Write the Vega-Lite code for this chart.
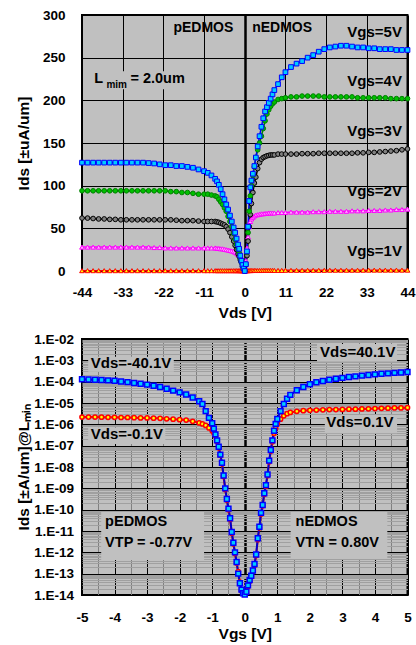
{
  "$schema": "https://vega.github.io/schema/vega-lite/v6.json",
  "background": "white",
  "padding": {"left": 15, "top": 7, "right": 0, "bottom": 0},
  "columns": 1,
  "align": "none",
  "spacing": 9,
  "resolve": {"scale": {"color": "independent", "fill": "independent", "stroke": "independent", "shape": "independent", "size": "independent"}},
  "config": {
    "font": "Liberation Sans",
    "view": {"fill": "#c0c0c0", "stroke": "#000000", "strokeWidth": 2},
    "axis": {
      "labelFont": "Liberation Sans", "labelFontWeight": "bold", "labelFontSize": 13.5, "labelColor": "#000000",
      "titleFont": "Liberation Sans", "titleFontWeight": "bold", "titleFontSize": 15.5, "titleColor": "#000000",
      "ticks": false, "domain": false, "grid": true, "gridOpacity": 1,
      "labelOverlap": false, "labelBound": false, "labelFlush": false
    },
    "text": {"font": "Liberation Sans", "fontWeight": "bold", "color": "#000000"}
  },
  "datasets": {
    "top": [
      {"v": -44, "g1": 0.4, "g2": 28, "g3": 62, "g4": 94, "g5": 127},
      {"v": -42.5, "g1": 0.4, "g2": 28, "g3": 62, "g4": 94, "g5": 127},
      {"v": -41, "g1": 0.4, "g2": 28, "g3": 61.5, "g4": 94, "g5": 127},
      {"v": -39.5, "g1": 0.4, "g2": 28, "g3": 61, "g4": 94, "g5": 127},
      {"v": -38, "g1": 0.4, "g2": 28, "g3": 61, "g4": 94, "g5": 127},
      {"v": -36.5, "g1": 0.4, "g2": 28, "g3": 60.5, "g4": 94, "g5": 127},
      {"v": -35, "g1": 0.4, "g2": 28, "g3": 60.5, "g4": 94, "g5": 127},
      {"v": -33.5, "g1": 0.4, "g2": 28, "g3": 60, "g4": 94, "g5": 127},
      {"v": -32, "g1": 0.4, "g2": 28, "g3": 60, "g4": 94, "g5": 127},
      {"v": -30.5, "g1": 0.4, "g2": 28, "g3": 60, "g4": 94, "g5": 127},
      {"v": -29, "g1": 0.4, "g2": 28, "g3": 60, "g4": 94, "g5": 127},
      {"v": -27.5, "g1": 0.4, "g2": 28, "g3": 60, "g4": 94, "g5": 127},
      {"v": -26, "g1": 0.4, "g2": 28, "g3": 60, "g4": 94, "g5": 126.5},
      {"v": -24.5, "g1": 0.4, "g2": 27.5, "g3": 60, "g4": 94, "g5": 126},
      {"v": -23, "g1": 0.4, "g2": 27.5, "g3": 60, "g4": 94, "g5": 125},
      {"v": -21.5, "g1": 0.4, "g2": 27, "g3": 60, "g4": 94, "g5": 124},
      {"v": -20, "g1": 0.4, "g2": 27, "g3": 60, "g4": 93, "g5": 124},
      {"v": -18.5, "g1": 0.4, "g2": 27, "g3": 59.5, "g4": 93, "g5": 123},
      {"v": -17, "g1": 0.4, "g2": 27, "g3": 59, "g4": 92, "g5": 123},
      {"v": -15.5, "g1": 0.4, "g2": 27, "g3": 59, "g4": 92, "g5": 122},
      {"v": -14, "g1": 0.4, "g2": 27, "g3": 59, "g4": 91, "g5": 121},
      {"v": -12.5, "g1": 0.4, "g2": 27, "g3": 58.5, "g4": 90, "g5": 119},
      {"v": -11, "g1": 0.4, "g2": 27, "g3": 58, "g4": 90, "g5": 117},
      {"v": -10, "g1": 0.4, "g2": 27, "g3": 58, "g4": 90, "g5": 115},
      {"v": -9, "g1": 0.4, "g2": 27, "g3": 58, "g4": 89, "g5": 112},
      {"v": -8, "g1": 0.4, "g2": 27, "g3": 58, "g4": 88, "g5": 108},
      {"v": -7.5, "g1": 0.4, "g2": 26.5, "g3": 57.5, "g4": 87, "g5": 105},
      {"v": -7, "g1": 0.4, "g2": 26.5, "g3": 57, "g4": 84, "g5": 101},
      {"v": -6.5, "g1": 0.4, "g2": 26, "g3": 56, "g4": 81, "g5": 96},
      {"v": -6, "g1": 0.4, "g2": 26, "g3": 55, "g4": 78, "g5": 90},
      {"v": -5.5, "g1": 0.4, "g2": 25.5, "g3": 54, "g4": 74, "g5": 84},
      {"v": -5, "g1": 0.4, "g2": 25, "g3": 52, "g4": 70, "g5": 78},
      {"v": -4.5, "g1": 0.4, "g2": 24.5, "g3": 49, "g4": 64, "g5": 72},
      {"v": -4, "g1": 0.4, "g2": 24, "g3": 45, "g4": 58, "g5": 65},
      {"v": -3.5, "g1": 0.4, "g2": 23.5, "g3": 40, "g4": 52, "g5": 58},
      {"v": -3, "g1": 0.4, "g2": 23, "g3": 35, "g4": 44, "g5": 51},
      {"v": -2.6, "g1": 0.4, "g2": 22, "g3": 30, "g4": 37, "g5": 45},
      {"v": -2.2, "g1": 0.4, "g2": 21, "g3": 25, "g4": 31, "g5": 38},
      {"v": -1.8, "g1": 0.4, "g2": 19.5, "g3": 20, "g4": 25, "g5": 31},
      {"v": -1.5, "g1": 0.4, "g2": 18.5, "g3": 17, "g4": 21, "g5": 26},
      {"v": -1.2, "g1": 0.4, "g2": 17, "g3": 13, "g4": 15, "g5": 18},
      {"v": -0.9, "g1": 0.3, "g2": 14, "g3": 10, "g4": 10, "g5": 12},
      {"v": -0.6, "g1": 0.3, "g2": 11, "g3": 6, "g4": 5, "g5": 7},
      {"v": -0.3, "g1": 0.2, "g2": 6, "g3": 2, "g4": 2, "g5": 3},
      {"v": 0, "g1": 0, "g2": 0, "g3": 0, "g4": 0, "g5": 0},
      {"v": 0.3, "g1": 0.2, "g2": 12, "g3": 7, "g4": 8, "g5": 8},
      {"v": 0.6, "g1": 0.3, "g2": 27, "g3": 18, "g4": 22, "g5": 23},
      {"v": 0.9, "g1": 0.4, "g2": 40, "g3": 35, "g4": 45, "g5": 52},
      {"v": 1.2, "g1": 0.5, "g2": 52, "g3": 52, "g4": 70, "g5": 82},
      {"v": 1.5, "g1": 0.5, "g2": 58, "g3": 66, "g4": 88, "g5": 98},
      {"v": 1.8, "g1": 0.5, "g2": 61, "g3": 79, "g4": 100, "g5": 106},
      {"v": 2.2, "g1": 0.6, "g2": 63, "g3": 92, "g4": 112, "g5": 114},
      {"v": 2.6, "g1": 0.6, "g2": 64.5, "g3": 103, "g4": 122, "g5": 123},
      {"v": 3, "g1": 0.6, "g2": 65.5, "g3": 110, "g4": 133, "g5": 133},
      {"v": 3.5, "g1": 0.6, "g2": 66, "g3": 120, "g4": 142, "g5": 146},
      {"v": 4, "g1": 0.6, "g2": 66.5, "g3": 127, "g4": 150, "g5": 158},
      {"v": 4.5, "g1": 0.6, "g2": 67, "g3": 131, "g4": 158, "g5": 169},
      {"v": 5, "g1": 0.7, "g2": 67, "g3": 133, "g4": 167, "g5": 179},
      {"v": 5.5, "g1": 0.7, "g2": 67.5, "g3": 134, "g4": 176, "g5": 187},
      {"v": 6, "g1": 0.7, "g2": 67.5, "g3": 135, "g4": 184, "g5": 192},
      {"v": 6.5, "g1": 0.7, "g2": 68, "g3": 135.5, "g4": 189, "g5": 197},
      {"v": 7, "g1": 0.7, "g2": 68, "g3": 136, "g4": 193, "g5": 202},
      {"v": 7.5, "g1": 0.7, "g2": 68, "g3": 136, "g4": 196, "g5": 207},
      {"v": 8, "g1": 0.7, "g2": 68, "g3": 136, "g4": 198, "g5": 212},
      {"v": 9, "g1": 0.7, "g2": 68.5, "g3": 137, "g4": 201, "g5": 219},
      {"v": 10, "g1": 0.7, "g2": 68.5, "g3": 137, "g4": 202, "g5": 227},
      {"v": 11, "g1": 0.8, "g2": 68.5, "g3": 137, "g4": 203, "g5": 233},
      {"v": 12.5, "g1": 0.8, "g2": 69, "g3": 137, "g4": 204, "g5": 239},
      {"v": 14, "g1": 0.8, "g2": 69, "g3": 137, "g4": 204, "g5": 243},
      {"v": 15.5, "g1": 0.8, "g2": 69, "g3": 137.5, "g4": 205, "g5": 246},
      {"v": 17, "g1": 0.8, "g2": 69, "g3": 137.5, "g4": 205, "g5": 250},
      {"v": 18.5, "g1": 0.8, "g2": 69.5, "g3": 137.5, "g4": 205, "g5": 253},
      {"v": 20, "g1": 0.8, "g2": 69.5, "g3": 138, "g4": 205, "g5": 257},
      {"v": 21.5, "g1": 0.8, "g2": 69.5, "g3": 138, "g4": 204, "g5": 260},
      {"v": 23, "g1": 0.9, "g2": 70, "g3": 138, "g4": 204, "g5": 262},
      {"v": 24.5, "g1": 0.9, "g2": 70, "g3": 138, "g4": 204, "g5": 263},
      {"v": 26, "g1": 0.9, "g2": 70, "g3": 138, "g4": 204, "g5": 264},
      {"v": 27.5, "g1": 0.9, "g2": 70, "g3": 138, "g4": 204, "g5": 264},
      {"v": 29, "g1": 0.9, "g2": 70.5, "g3": 138, "g4": 204, "g5": 263},
      {"v": 30.5, "g1": 0.9, "g2": 70.5, "g3": 138.5, "g4": 203, "g5": 262},
      {"v": 32, "g1": 0.9, "g2": 70.5, "g3": 138.5, "g4": 203, "g5": 262},
      {"v": 33.5, "g1": 1, "g2": 71, "g3": 139, "g4": 203, "g5": 261},
      {"v": 35, "g1": 1, "g2": 71, "g3": 139, "g4": 203, "g5": 261},
      {"v": 36.5, "g1": 1, "g2": 71, "g3": 139.5, "g4": 203, "g5": 260},
      {"v": 38, "g1": 1, "g2": 71.5, "g3": 140, "g4": 203, "g5": 260},
      {"v": 39.5, "g1": 1, "g2": 71.5, "g3": 140.5, "g4": 202, "g5": 260},
      {"v": 41, "g1": 1, "g2": 72, "g3": 141, "g4": 202, "g5": 259},
      {"v": 42.5, "g1": 1, "g2": 72, "g3": 142, "g4": 202, "g5": 259},
      {"v": 44, "g1": 1, "g2": 72.5, "g3": 143, "g4": 202, "g5": 259}
    ],
    "bot": [
      {"v": -5, "n01": 2.19e-6, "n40": 1.29e-4},
      {"v": -4.8, "n01": 2.19e-6, "n40": 1.26e-4},
      {"v": -4.6, "n01": 2.19e-6, "n40": 1.23e-4},
      {"v": -4.4, "n01": 2.16e-6, "n40": 1.2e-4},
      {"v": -4.2, "n01": 2.14e-6, "n40": 1.15e-4},
      {"v": -4.0, "n01": 2.14e-6, "n40": 1.1e-4},
      {"v": -3.8, "n01": 2.09e-6, "n40": 1.02e-4},
      {"v": -3.6, "n01": 2.09e-6, "n40": 9.55e-5},
      {"v": -3.4, "n01": 2.04e-6, "n40": 8.71e-5},
      {"v": -3.2, "n01": 2e-6, "n40": 7.94e-5},
      {"v": -3.0, "n01": 2e-6, "n40": 7.24e-5},
      {"v": -2.8, "n01": 1.95e-6, "n40": 6.46e-5},
      {"v": -2.6, "n01": 1.91e-6, "n40": 5.62e-5},
      {"v": -2.4, "n01": 1.82e-6, "n40": 4.68e-5},
      {"v": -2.2, "n01": 1.74e-6, "n40": 3.8e-5},
      {"v": -2.0, "n01": 1.66e-6, "n40": 3.16e-5},
      {"v": -1.8, "n01": 1.58e-6, "n40": 2.51e-5},
      {"v": -1.6, "n01": 1.38e-6, "n40": 1.82e-5},
      {"v": -1.4, "n01": 1.17e-6, "n40": 1.2e-5},
      {"v": -1.3, "n01": 1.05e-6, "n40": 8.91e-6},
      {"v": -1.2, "n01": 8.91e-7, "n40": 4.17e-6},
      {"v": -1.1, "n01": 6.76e-7, "n40": 2e-6},
      {"v": -1.0, "n01": 5.01e-7, "n40": 1.12e-6},
      {"v": -0.95, "n01": 3.98e-7, "n40": 6.31e-7},
      {"v": -0.9, "n01": 2.82e-7, "n40": 3.39e-7},
      {"v": -0.85, "n01": 1.58e-7, "n40": 1.78e-7},
      {"v": -0.8, "n01": 7.94e-8, "n40": 8.91e-8},
      {"v": -0.75, "n01": 3.55e-8, "n40": 3.8e-8},
      {"v": -0.7, "n01": 1.41e-8, "n40": 1.58e-8},
      {"v": -0.65, "n01": 3.55e-9, "n40": 3.98e-9},
      {"v": -0.6, "n01": 8.91e-10, "n40": 1e-9},
      {"v": -0.55, "n01": 2.82e-10, "n40": 3.16e-10},
      {"v": -0.5, "n01": 1e-10, "n40": 1.12e-10},
      {"v": -0.45, "n01": 3.55e-11, "n40": 3.98e-11},
      {"v": -0.4, "n01": 7.94e-12, "n40": 8.91e-12},
      {"v": -0.35, "n01": 2.51e-12, "n40": 2.82e-12},
      {"v": -0.3, "n01": 8.91e-13, "n40": 1e-12},
      {"v": -0.25, "n01": 3.16e-13, "n40": 3.55e-13},
      {"v": -0.2, "n01": 1.26e-13, "n40": 1e-13},
      {"v": -0.15, "n01": 3.98e-14, "n40": 3.55e-14},
      {"v": -0.1, "n01": 1.58e-14, "n40": 1.78e-14},
      {"v": -0.05, "n01": 1.26e-14, "n40": 1.2e-14},
      {"v": 0, "n01": 1.12e-14, "n40": 1.05e-14},
      {"v": 0.05, "n01": 1.26e-14, "n40": 1.41e-14},
      {"v": 0.1, "n01": 2.51e-14, "n40": 2.82e-14},
      {"v": 0.15, "n01": 4.47e-14, "n40": 5.01e-14},
      {"v": 0.2, "n01": 7.08e-14, "n40": 7.94e-14},
      {"v": 0.25, "n01": 1.26e-13, "n40": 1.41e-13},
      {"v": 0.3, "n01": 2.51e-13, "n40": 2.82e-13},
      {"v": 0.35, "n01": 7.08e-13, "n40": 7.94e-13},
      {"v": 0.4, "n01": 3.98e-12, "n40": 4.57e-12},
      {"v": 0.45, "n01": 1.41e-11, "n40": 1.58e-11},
      {"v": 0.5, "n01": 6.31e-11, "n40": 7.08e-11},
      {"v": 0.55, "n01": 1.51e-10, "n40": 1.66e-10},
      {"v": 0.6, "n01": 5.25e-10, "n40": 5.89e-10},
      {"v": 0.65, "n01": 1.26e-9, "n40": 1.41e-9},
      {"v": 0.7, "n01": 3.98e-9, "n40": 4.47e-9},
      {"v": 0.75, "n01": 1.78e-8, "n40": 2e-8},
      {"v": 0.8, "n01": 5.62e-8, "n40": 6.31e-8},
      {"v": 0.85, "n01": 1.51e-7, "n40": 1.78e-7},
      {"v": 0.9, "n01": 3.8e-7, "n40": 5.01e-7},
      {"v": 0.95, "n01": 6.61e-7, "n40": 1.05e-6},
      {"v": 1.0, "n01": 1.05e-6, "n40": 1.78e-6},
      {"v": 1.1, "n01": 1.74e-6, "n40": 4.17e-6},
      {"v": 1.2, "n01": 2.51e-6, "n40": 8.91e-6},
      {"v": 1.3, "n01": 3.16e-6, "n40": 1.58e-5},
      {"v": 1.4, "n01": 3.63e-6, "n40": 2.4e-5},
      {"v": 1.6, "n01": 4.07e-6, "n40": 3.98e-5},
      {"v": 1.8, "n01": 4.37e-6, "n40": 5.62e-5},
      {"v": 2.0, "n01": 4.57e-6, "n40": 7.59e-5},
      {"v": 2.2, "n01": 4.68e-6, "n40": 9.33e-5},
      {"v": 2.4, "n01": 4.79e-6, "n40": 1.07e-4},
      {"v": 2.6, "n01": 4.9e-6, "n40": 1.23e-4},
      {"v": 2.8, "n01": 4.9e-6, "n40": 1.38e-4},
      {"v": 3.0, "n01": 5.01e-6, "n40": 1.51e-4},
      {"v": 3.2, "n01": 5.13e-6, "n40": 1.66e-4},
      {"v": 3.4, "n01": 5.13e-6, "n40": 1.78e-4},
      {"v": 3.6, "n01": 5.25e-6, "n40": 1.91e-4},
      {"v": 3.8, "n01": 5.37e-6, "n40": 2.04e-4},
      {"v": 4.0, "n01": 5.5e-6, "n40": 2.19e-4},
      {"v": 4.2, "n01": 5.62e-6, "n40": 2.34e-4},
      {"v": 4.4, "n01": 5.75e-6, "n40": 2.45e-4},
      {"v": 4.6, "n01": 5.89e-6, "n40": 2.57e-4},
      {"v": 4.8, "n01": 5.89e-6, "n40": 2.69e-4},
      {"v": 5.0, "n01": 6.03e-6, "n40": 2.82e-4}
    ]
  },
  "concat": [
    {
      "width": 325.5,
      "height": 256,
      "layer": [
        {
          "data": {"values": [{"v": -41.7, "v2": -16, "i": 213, "i2": 234}]},
          "mark": {"type": "rect", "fill": "#c0c0c0"},
          "encoding": {
            "x": {"field": "v", "type": "quantitative",
              "scale": {"domain": [-44, 44], "nice": false, "zero": false},
              "title": "Vds  [V]",
              "axis": {
                "values": [-44, -38.5, -33, -27.5, -22, -16.5, -11, -5.5, 0, 5.5, 11, 16.5, 22, 27.5, 33, 38.5, 44],
                "labelExpr": "datum.value % 11 === 0 ? toString(datum.value) : ''",
                "labelOverlap": false,
                "gridColor": {"condition": {"test": "datum.value % 11 === 0", "value": "#000000"}, "value": "#7f7f7f"},
                "gridWidth": {"condition": {"test": "datum.value === 0", "value": 2.5}, "value": 1},
                "labelPadding": 14, "titlePadding": 7
              }
            },
            "x2": {"field": "v2"},
            "y": {"field": "i", "type": "quantitative",
              "scale": {"domain": [0, 300], "nice": false, "zero": false},
              "title": "Ids  [±uA/um]",
              "axis": {
                "values": [0, 25, 50, 75, 100, 125, 150, 175, 200, 225, 250, 275, 300],
                "labelExpr": "datum.value % 50 === 0 ? toString(datum.value) : ''",
                "labelOverlap": false,
                "gridColor": {"condition": {"test": "datum.value % 50 === 0", "value": "#000000"}, "value": "#7f7f7f"},
                "labelPadding": 17, "titlePadding": 10.5
              }
            },
            "y2": {"field": "i2"}
          }
        },
        {
          "data": {"name": "top"},
          "transform": [{"fold": ["g1", "g2", "g3", "g4", "g5"], "as": ["s", "i"]}],
          "mark": {"type": "line", "strokeWidth": 1.5},
          "encoding": {
            "x": {"field": "v", "type": "quantitative"},
            "y": {"field": "i", "type": "quantitative"},
            "color": {"field": "s", "type": "nominal", "legend": null,
              "scale": {"domain": ["g1", "g2", "g3", "g4", "g5"], "range": ["#ff0000", "#ff00ff", "#000000", "#008000", "#0000ff"]}}
          }
        },
        {
          "data": {"name": "top"},
          "transform": [{"fold": ["g1", "g2", "g3", "g4", "g5"], "as": ["s", "i"]}],
          "mark": {"type": "point", "strokeWidth": 1, "opacity": 1},
          "encoding": {
            "x": {"field": "v", "type": "quantitative"},
            "y": {"field": "i", "type": "quantitative"},
            "shape": {"field": "s", "type": "nominal", "legend": null,
              "scale": {"domain": ["g1", "g2", "g3", "g4", "g5"], "range": ["triangle-up", "triangle-up", "circle", "circle", "square"]}},
            "fill": {"field": "s", "type": "nominal", "legend": null,
              "scale": {"domain": ["g1", "g2", "g3", "g4", "g5"], "range": ["#ffff00", "#ffb0ff", "#808080", "#00c000", "#00ccff"]}},
            "stroke": {"field": "s", "type": "nominal", "legend": null,
              "scale": {"domain": ["g1", "g2", "g3", "g4", "g5"], "range": ["#ff0000", "#ff00ff", "#000000", "#008000", "#0000ff"]}},
            "size": {"field": "s", "type": "ordinal", "legend": null,
              "scale": {"domain": ["g1", "g2", "g3", "g4", "g5"], "range": [22, 22, 18, 18, 26]}},
            "order": {"field": "s"}
          }
        },
        {
          "data": {"values": [
            {"v": -3.1, "i": 285, "t": "pEDMOS"}
          ]},
          "mark": {"type": "text", "align": "right", "baseline": "middle", "fontSize": 14},
          "encoding": {"x": {"field": "v", "type": "quantitative"}, "y": {"field": "i", "type": "quantitative"}, "text": {"field": "t"}}
        },
        {
          "data": {"values": [
            {"v": 42.5, "i": 280, "t": "Vgs=5V"},
            {"v": 42.5, "i": 223, "t": "Vgs=4V"},
            {"v": 42.5, "i": 164, "t": "Vgs=3V"},
            {"v": 42.5, "i": 94, "t": "Vgs=2V"},
            {"v": 42.5, "i": 23, "t": "Vgs=1V"}
          ]},
          "mark": {"type": "text", "align": "right", "baseline": "middle", "fontSize": 15},
          "encoding": {"x": {"field": "v", "type": "quantitative"}, "y": {"field": "i", "type": "quantitative"}, "text": {"field": "t"}}
        },
        {
          "data": {"values": [
            {"v": 2.0, "i": 285, "t": "nEDMOS"}
          ]},
          "mark": {"type": "text", "align": "left", "baseline": "middle", "fontSize": 14},
          "encoding": {"x": {"field": "v", "type": "quantitative"}, "y": {"field": "i", "type": "quantitative"}, "text": {"field": "t"}}
        },
        {
          "data": {"values": [
            {"v": -40.7, "i": 225, "t": "L"},
            {"v": -30.9, "i": 225, "t": "= 2.0um"}
          ]},
          "mark": {"type": "text", "align": "left", "baseline": "middle", "fontSize": 14.5},
          "encoding": {"x": {"field": "v", "type": "quantitative"}, "y": {"field": "i", "type": "quantitative"}, "text": {"field": "t"}}
        },
        {
          "data": {"values": [
            {"v": -37.4, "i": 218, "t": "mim"}
          ]},
          "mark": {"type": "text", "align": "left", "baseline": "middle", "fontSize": 10},
          "encoding": {"x": {"field": "v", "type": "quantitative"}, "y": {"field": "i", "type": "quantitative"}, "text": {"field": "t"}}
        }
      ]
    },
    {
      "width": 325.5,
      "height": 256,
      "resolve": {"axis": {"x": "independent"}},
      "layer": [
        {
          "data": {"values": [
            {"v": -4.81, "v2": -2.18, "i": 1.48e-3, "i2": 2.95e-4},
            {"v": -4.81, "v2": -2.44, "i": 7.24e-7, "i2": 1.2e-7},
            {"v": 2.22, "v2": 4.68, "i": 5.89e-3, "i2": 8.7e-4},
            {"v": 2.46, "v2": 4.68, "i": 2.75e-6, "i2": 3.8e-7},
            {"v": -4.41, "v2": -1.25, "i": 7.76e-11, "i2": 4.37e-13},
            {"v": 1.41, "v2": 4.38, "i": 7.76e-11, "i2": 4.9e-13}
          ]},
          "mark": {"type": "rect", "fill": "#c0c0c0"},
          "encoding": {
            "x": {"field": "v", "type": "quantitative",
              "scale": {"domain": [-5, 5], "nice": false, "zero": false},
              "title": "Vgs  [V]",
              "axis": {
                "values": [-5, -4, -3, -2, -1, 0, 1, 2, 3, 4, 5],
                "labelExpr": "toString(datum.value)",
                "labelOverlap": false,
                "gridColor": "#000000",
                "gridWidth": {"condition": {"test": "datum.value === 0", "value": 2.5}, "value": 1},
                "labelPadding": 15, "titlePadding": 3
              }
            },
            "x2": {"field": "v2"},
            "y": {"field": "i", "type": "quantitative",
              "scale": {"type": "log", "domain": [1e-14, 1e-2], "nice": false, "zero": false},
              "title": "Ids  [±A/um]@Lₘᵢₙ",
              "axis": {
                "values": [1e-14, 2e-14, 3e-14, 4e-14, 5e-14, 6e-14, 7e-14, 8e-14, 9e-14,
                  1e-13, 2e-13, 3e-13, 4e-13, 5e-13, 6e-13, 7e-13, 8e-13, 9e-13,
                  1e-12, 2e-12, 3e-12, 4e-12, 5e-12, 6e-12, 7e-12, 8e-12, 9e-12,
                  1e-11, 2e-11, 3e-11, 4e-11, 5e-11, 6e-11, 7e-11, 8e-11, 9e-11,
                  1e-10, 2e-10, 3e-10, 4e-10, 5e-10, 6e-10, 7e-10, 8e-10, 9e-10,
                  1e-9, 2e-9, 3e-9, 4e-9, 5e-9, 6e-9, 7e-9, 8e-9, 9e-9,
                  1e-8, 2e-8, 3e-8, 4e-8, 5e-8, 6e-8, 7e-8, 8e-8, 9e-8,
                  1e-7, 2e-7, 3e-7, 4e-7, 5e-7, 6e-7, 7e-7, 8e-7, 9e-7,
                  1e-6, 2e-6, 3e-6, 4e-6, 5e-6, 6e-6, 7e-6, 8e-6, 9e-6,
                  1e-5, 2e-5, 3e-5, 4e-5, 5e-5, 6e-5, 7e-5, 8e-5, 9e-5,
                  1e-4, 2e-4, 3e-4, 4e-4, 5e-4, 6e-4, 7e-4, 8e-4, 9e-4,
                  1e-3, 2e-3, 3e-3, 4e-3, 5e-3, 6e-3, 7e-3, 8e-3, 9e-3, 1e-2],
                "labelExpr": "abs(log(datum.value)/LN10 - round(log(datum.value)/LN10)) < 0.001 ? (round(-log(datum.value)/LN10) < 10 ? '1.E-0' : '1.E-') + round(-log(datum.value)/LN10) : ''",
                "labelOverlap": false,
                "gridColor": {"condition": {"test": "abs(log(datum.value)/LN10 - round(log(datum.value)/LN10)) < 0.001", "value": "#000000"}, "value": "#a0a0a0"},
                "labelPadding": 8.5, "titlePadding": 2.7
              }
            },
            "y2": {"field": "i2"}
          }
        },
        {
          "data": {"name": "bot"},
          "transform": [{"fold": ["n01", "n40"], "as": ["s", "i"]}],
          "mark": {"type": "line", "strokeWidth": 2},
          "encoding": {
            "x": {"field": "v", "type": "quantitative",
              "axis": {
                "orient": "top",
                "values": [-4.5, -3.5, -2.5, -1.5, -0.5, 0.5, 1.5, 2.5, 3.5, 4.5],
                "labels": false, "title": null, "ticks": false, "domain": false,
                "grid": true, "gridColor": "#808080"
              }
            },
            "y": {"field": "i", "type": "quantitative"},
            "color": {"field": "s", "type": "nominal", "legend": null,
              "scale": {"domain": ["n01", "n40"], "range": ["#ff0000", "#0000cc"]}}
          }
        },
        {
          "data": {"name": "bot"},
          "transform": [{"fold": ["n01", "n40"], "as": ["s", "i"]}],
          "mark": {"type": "point", "strokeWidth": 1.5, "opacity": 1},
          "encoding": {
            "x": {"field": "v", "type": "quantitative", "axis": null},
            "y": {"field": "i", "type": "quantitative"},
            "shape": {"field": "s", "type": "nominal", "legend": null,
              "scale": {"domain": ["n01", "n40"], "range": ["circle", "square"]}},
            "fill": {"field": "s", "type": "nominal", "legend": null,
              "scale": {"domain": ["n01", "n40"], "range": ["#ffff00", "#00ccff"]}},
            "stroke": {"field": "s", "type": "nominal", "legend": null,
              "scale": {"domain": ["n01", "n40"], "range": ["#ff0000", "#0000ff"]}},
            "size": {"field": "s", "type": "ordinal", "legend": null,
              "scale": {"domain": ["n01", "n40"], "range": [18, 24]}},
            "order": {"field": "s"}
          }
        },
        {
          "data": {"values": [
            {"v": -4.73, "i": 7.5e-4, "t": "Vds=-40.1V"},
            {"v": -4.73, "i": 3.55e-7, "t": "Vds=-0.1V"}
          ]},
          "mark": {"type": "text", "align": "left", "baseline": "middle", "fontSize": 15},
          "encoding": {"x": {"field": "v", "type": "quantitative", "axis": null}, "y": {"field": "i", "type": "quantitative"}, "text": {"field": "t"}}
        },
        {
          "data": {"values": [
            {"v": 4.63, "i": 2.45e-3, "t": "Vds=40.1V"},
            {"v": 4.57, "i": 1.26e-6, "t": "Vds=0.1V"}
          ]},
          "mark": {"type": "text", "align": "right", "baseline": "middle", "fontSize": 15},
          "encoding": {"x": {"field": "v", "type": "quantitative", "axis": null}, "y": {"field": "i", "type": "quantitative"}, "text": {"field": "t"}}
        },
        {
          "data": {"values": [
            {"v": -4.29, "i": 2.63e-11, "t": "pEDMOS"},
            {"v": -4.29, "i": 2.75e-12, "t": "VTP = -0.77V"},
            {"v": 1.56, "i": 2.63e-11, "t": "nEDMOS"},
            {"v": 1.56, "i": 2.75e-12, "t": "VTN = 0.80V"}
          ]},
          "mark": {"type": "text", "align": "left", "baseline": "middle", "fontSize": 14.5},
          "encoding": {"x": {"field": "v", "type": "quantitative", "axis": null}, "y": {"field": "i", "type": "quantitative"}, "text": {"field": "t"}}
        }
      ]
    }
  ]
}
